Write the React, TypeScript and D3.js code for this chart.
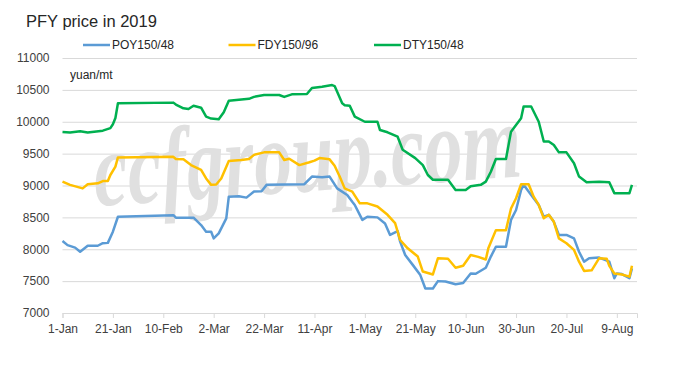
import { useEffect, useRef } from "react"
import * as d3 from "d3"

const title = "PFY price in 2019"
const unitLabel = "yuan/mt"
const watermark = "ccfgroup.com"
const seriesNames = ["POY150/48", "FDY150/96", "DTY150/48"]
const seriesColors = ["#5b9bd5", "#ffc000", "#00b050"]
const yTicks = [7000, 7500, 8000, 8500, 9000, 9500, 10000, 10500, 11000]
// tick days counted from 1-Jan
const xTickDays = [0, 20, 40, 60, 80, 100, 120, 140, 160, 180, 200, 220]

// [days since 1-Jan, yuan/mt]
const poy = [
    [0, 8130], [2, 8065], [5, 8025], [7, 7960], [10, 8055], [14, 8055], [16, 8095], [18, 8100],
    [20, 8275], [22, 8510], [44, 8535], [45, 8495], [52, 8495], [55, 8380], [57, 8275], [59, 8275],
    [60, 8170], [62, 8250], [65, 8485], [66, 8825], [70, 8830], [73, 8810], [76, 8905], [79, 8910],
    [81, 9010], [96, 9020], [99, 9140], [103, 9130], [106, 9140], [109, 8955], [113, 8850], [115, 8745],
    [116, 8695], [119, 8460], [121, 8510], [125, 8500], [128, 8405], [130, 8225], [133, 8285], [134, 8120],
    [136, 7910], [139, 7755], [142, 7595], [144, 7385], [147, 7385], [149, 7500], [152, 7495], [156, 7450],
    [159, 7470], [162, 7620], [164, 7615], [168, 7710], [170, 7885], [172, 8040], [176, 8040], [178, 8460],
    [180, 8615], [182, 8930], [183, 9010], [186, 8850], [189, 8695], [191, 8510], [193, 8540], [195, 8430],
    [197, 8225], [200, 8225], [203, 8170], [205, 7960], [207, 7805], [209, 7860], [213, 7870], [217, 7805],
    [219, 7545], [220, 7620], [222, 7610], [225, 7545], [226, 7700],
]
const fdy = [
    [0, 9060], [3, 9010], [8, 8955], [10, 9020], [14, 9035], [16, 9070], [18, 9070], [19, 9165],
    [21, 9295], [22, 9440], [44, 9450], [45, 9415], [48, 9410], [51, 9320], [55, 9245], [57, 9110],
    [59, 9010], [61, 9015], [63, 9110], [66, 9385], [71, 9400], [74, 9415], [76, 9480], [80, 9520],
    [86, 9520], [88, 9400], [90, 9420], [94, 9320], [98, 9365], [100, 9390], [102, 9430], [106, 9410],
    [108, 9310], [110, 9140], [112, 8955], [115, 8905], [118, 8720], [121, 8720], [125, 8670], [129, 8540],
    [132, 8410], [134, 8145], [137, 8015], [141, 7885], [143, 7650], [147, 7605], [149, 7860], [153, 7850],
    [156, 7710], [159, 7740], [162, 7910], [165, 7880], [168, 7840], [169, 8015], [172, 8300], [176, 8300],
    [178, 8640], [180, 8800], [182, 9020], [185, 9020], [187, 8825], [189, 8695], [191, 8485], [193, 8540],
    [195, 8430], [197, 8170], [200, 8095], [203, 7990], [205, 7805], [207, 7660], [210, 7670], [213, 7860],
    [216, 7850], [217, 7740], [219, 7620], [222, 7605], [225, 7570], [226, 7740],
]
const dty = [
    [0, 9840], [3, 9830], [7, 9850], [10, 9830], [16, 9860], [19, 9900], [20, 9960], [21, 10060],
    [22, 10290], [44, 10300], [45, 10270], [48, 10210], [50, 10200], [52, 10250], [55, 10220], [57, 10080],
    [59, 10050], [62, 10040], [64, 10150], [66, 10330], [74, 10360], [76, 10390], [80, 10420], [86, 10420],
    [88, 10390], [91, 10430], [97, 10435], [99, 10530], [103, 10550], [107, 10575], [108, 10560], [111, 10290],
    [112, 10260], [114, 10250], [116, 10080], [120, 10000], [125, 10000], [126, 9870], [129, 9835], [133, 9765],
    [135, 9560], [140, 9430], [143, 9320], [145, 9165], [147, 9090], [153, 9090], [156, 8930], [160, 8930],
    [162, 8990], [166, 9010], [168, 9060], [170, 9215], [172, 9415], [176, 9415], [178, 9845], [180, 9950],
    [182, 10055], [183, 10240], [186, 10240], [189, 10000], [191, 9690], [193, 9690], [195, 9635], [197, 9520],
    [200, 9520], [203, 9350], [205, 9140], [208, 9050], [213, 9060], [217, 9050], [219, 8880], [225, 8880],
    [226, 9010],
]

const start = new Date(2019, 0, 1)
const toDate = (d: number) => d3.timeDay.offset(start, d)

export default function App() {
    const ref = useRef<SVGSVGElement>(null)

    const drawChart = () => {
        const width = 699, height = 369
        const margin = { top: 58, left: 62.5, right: 62, bottom: 56 }
        const svg = d3.select(ref.current)
        svg.selectAll("*").remove()
        svg.attr("width", width).attr("height", height)

        svg.append("rect").attr("width", width).attr("height", height).attr("fill", "white")

        const xScale = d3.scaleTime()
            .domain([start, toDate(228)])
            .range([margin.left, width - margin.right])

        const yScale = d3.scaleLinear()
            .domain([7000, 11000])
            .range([height - margin.bottom, margin.top])

        const font = "'Liberation Sans', Arial, sans-serif"

        // grid + y labels
        const yAxis = d3.axisLeft(yScale)
            .tickValues(yTicks)
            .tickSize(-(width - margin.left - margin.right))
            .tickPadding(13)
            .tickFormat((d) => String(d))

        svg.append("g")
            .attr("transform", `translate(${margin.left}, 0)`)
            .call(yAxis)
            .call(g => g.select(".domain").remove())
            .call(g => g.selectAll(".tick line").attr("stroke", "#d9d9d9"))
            .selectAll("text")
            .style("font-family", font)
            .style("font-size", "12px")
            .attr("fill", "#404040")

        const xAxis = d3.axisBottom(xScale)
            .tickValues(xTickDays.map(toDate))
            .tickSize(5)
            .tickPadding(6)
            .tickFormat((d) => d3.timeFormat("%-d-%b")(d as Date))

        svg.append("g")
            .attr("transform", `translate(0, ${height - margin.bottom})`)
            .call(xAxis)
            .call(g => g.select(".domain").attr("stroke", "#d9d9d9"))
            .call(g => g.selectAll(".tick line").attr("stroke", "#d9d9d9"))
            .selectAll("text")
            .style("font-family", font)
            .style("font-size", "12px")
            .attr("fill", "#404040")

        // watermark
        svg.append("text")
            .attr("transform", "translate(96, 206) rotate(-4) scale(1, 1.4)")
            .style("font-family", "'Liberation Serif', serif")
            .style("font-style", "italic")
            .style("font-weight", "bold")
            .style("font-size", "76px")
            .attr("fill", "#e0e0e0")
            .text(watermark)

        const linePath = d3.line<number[]>()
            .x(d => xScale(toDate(d[0])))
            .y(d => yScale(d[1]))

        const series = [poy, fdy, dty]
        series.forEach((s, i) => {
            svg.append("path")
                .attr("fill", "none")
                .attr("stroke", seriesColors[i])
                .attr("stroke-width", 2.5)
                .attr("stroke-linejoin", "round")
                .attr("d", linePath(s))
        })

        svg.append("text")
            .attr("x", 70)
            .attr("y", 79)
            .style("font-family", font)
            .style("font-size", "12px")
            .attr("fill", "#262626")
            .text(unitLabel)

        svg.append("text")
            .attr("x", 26)
            .attr("y", 27)
            .style("font-family", font)
            .style("font-size", "16.5px")
            .attr("fill", "#262626")
            .text(title)

        const legend = svg.append("g").attr("transform", "translate(83, 45)")
        seriesNames.forEach((name, i) => {
            const g = legend.append("g").attr("transform", `translate(${i * 145.5}, 0)`)
            g.append("line")
                .attr("x1", 0).attr("x2", 27)
                .attr("stroke", seriesColors[i])
                .attr("stroke-width", 2.5)
            g.append("text")
                .attr("x", 29)
                .attr("dy", "0.35em")
                .style("font-family", font)
                .style("font-size", "12px")
                .attr("fill", "#262626")
                .text(name)
        })
    }

    useEffect(() => {
        drawChart()
    }, [])

    return (
        <div style={{ position: "absolute", left: 0, top: 0 }}>
            <svg ref={ref} style={{ display: "block" }}></svg>
        </div>
    )
}
